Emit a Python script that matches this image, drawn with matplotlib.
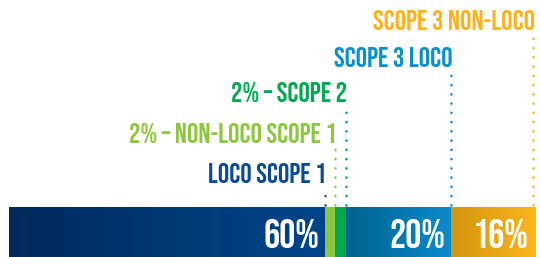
import matplotlib
matplotlib.use("Agg")
import matplotlib.pyplot as plt
import numpy as np
from matplotlib.colors import LinearSegmentedColormap

# data
labels = ["LOCO SCOPE 1", "2% – NON-LOCO SCOPE 1", "2% – SCOPE 2", "SCOPE 3 LOCO", "SCOPE 3 NON-LOCO"]
shares = [60, 2, 2, 20, 16]
pct_text = ["60%", "", "", "20%", "16%"]

# colours: (left, right) of each segment gradient, then label colour
seg_cols = [("#002a5c", "#00468c"), ("#8dc63f", "#8dc63f"), ("#00a94f", "#00a94f"),
            ("#00628f", "#0a8bcc"), ("#d4950f", "#fbb61a")]
txt_cols = ["#0b4a95", "#8dc63f", "#00a94f", "#0a8fd0", "#fbb21c"]

# label baseline / dotted-line top (pixels from figure bottom)
label_y = [74, 114, 155, 190, 227]
line_top = [67, 109, 150, 184, 220]

fig = plt.figure(figsize=(5.40, 2.57), dpi=100)
ax = fig.add_axes([9 / 540, 0, 526 / 540, 1])
ax.axis("off")

font = ["Bebas Neue", "DejaVu Sans"]

lefts = np.concatenate([[0], np.cumsum(shares)[:-1]])
bars = ax.barh(0, shares, left=lefts, height=50, align="edge", color=[c[1] for c in seg_cols])

# horizontal gradient inside each segment
for b, (c0, c1) in zip(bars, seg_cols):
    cmap = LinearSegmentedColormap.from_list("g", [c0, c1])
    x0, w = b.get_x(), b.get_width()
    im = ax.imshow(np.linspace(0, 1, 100).reshape(1, -1), cmap=cmap, aspect="auto",
                   extent=[x0, x0 + w, 0, 50], zorder=b.get_zorder())
    im.set_clip_path(b)

ax.set_xlim(0, 100)
ax.set_ylim(0, 257)

for i, (lab, s, l) in enumerate(zip(labels, shares, lefts)):
    xe = l + s
    if i == 4:
        xe = 99.7
    ax.plot([xe, xe], [52, line_top[i]], color=txt_cols[i], lw=1.8,
            linestyle=(0, (0.1, 3.6)), dash_capstyle="round")
    ax.text(xe + 0.3, label_y[i], lab, ha="right", va="baseline", color=txt_cols[i],
            fontsize=20.5, family=font)
    if pct_text[i]:
        ax.text(xe - 1.0, 24, pct_text[i], ha="right", va="center", color="white",
                fontsize=29, family=font)

fig.savefig("out.png", dpi=100)
